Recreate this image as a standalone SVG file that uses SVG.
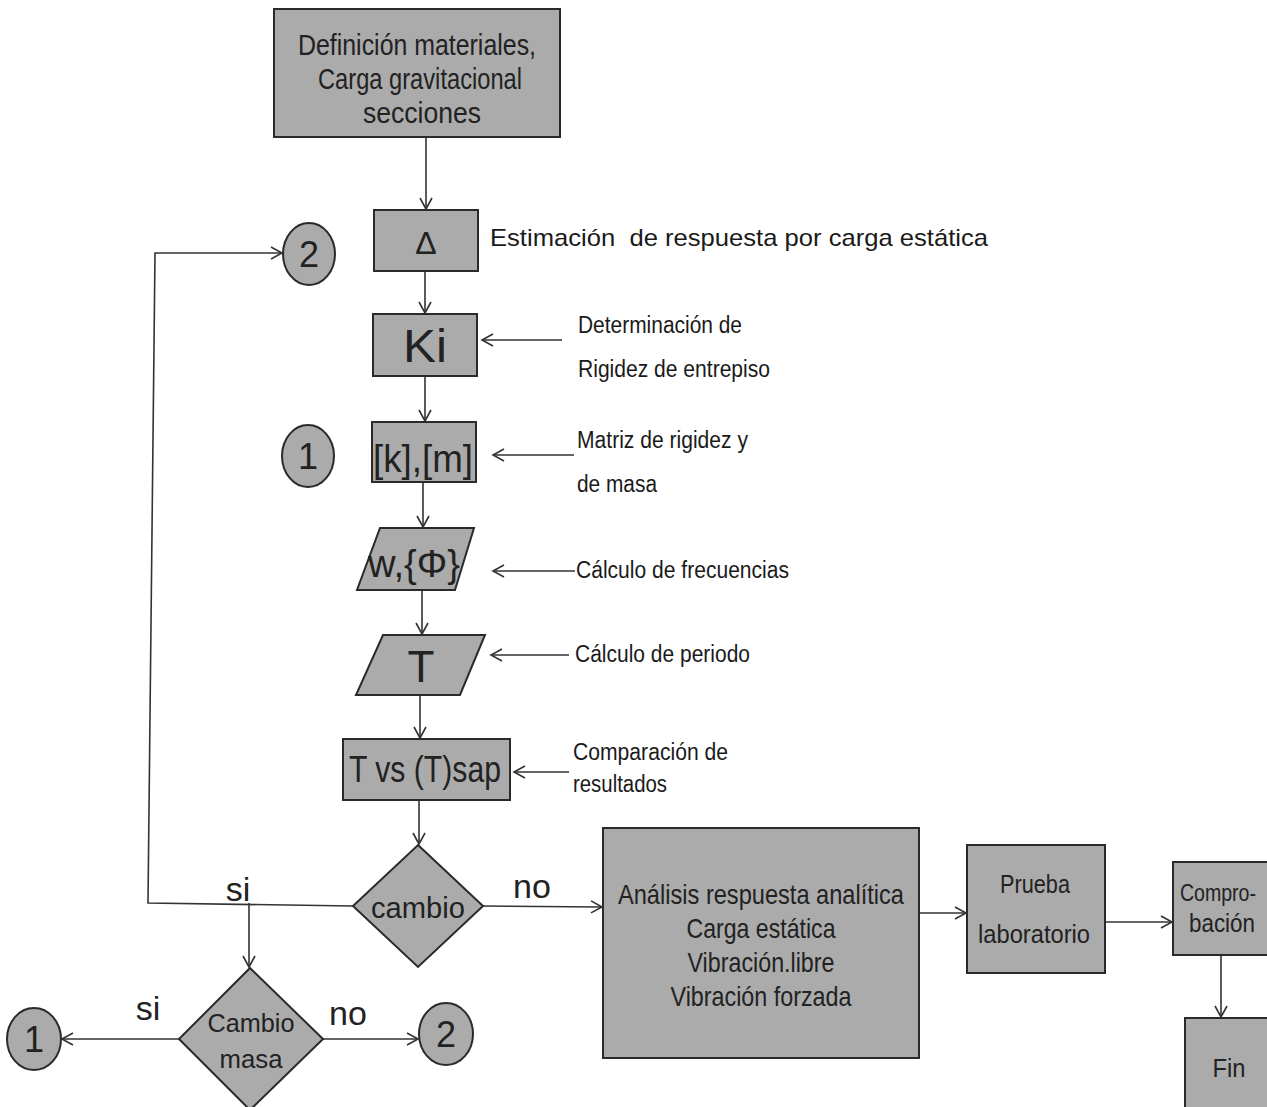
<svg xmlns="http://www.w3.org/2000/svg" width="1267" height="1107" viewBox="0 0 1267 1107">
<style>
.n{fill:#ababab;stroke:#2a2a2a;stroke-width:2}
.c{fill:none;stroke:#333;stroke-width:1.6}
.t{font-family:"Liberation Sans",Arial,sans-serif;fill:#222;text-anchor:middle}
.l{font-family:"Liberation Sans",Arial,sans-serif;fill:#1a1a1a}
</style>
<defs>
<marker id="a" markerUnits="userSpaceOnUse" markerWidth="14" markerHeight="14" refX="12" refY="7" orient="auto">
<path d="M1,1 L12,7 L1,13" fill="none" stroke="#333" stroke-width="1.6"/>
</marker>
</defs>
<rect width="1267" height="1107" fill="#fff"/>

<g id="connectors" class="c" marker-end="url(#a)">
<line x1="426" y1="137" x2="426" y2="209"/>
<line x1="425" y1="271" x2="425" y2="313"/>
<line x1="425" y1="376" x2="425" y2="421"/>
<line x1="423" y1="482" x2="423" y2="527"/>
<line x1="422" y1="590" x2="422" y2="634"/>
<line x1="420" y1="695" x2="420" y2="738"/>
<line x1="419" y1="800" x2="419" y2="844"/>
<polyline points="353,906 148,903 155,253 282,253"/>
<line x1="249" y1="903" x2="249" y2="967"/>
<line x1="483" y1="906" x2="602" y2="907"/>
<line x1="179" y1="1039" x2="62" y2="1039"/>
<line x1="323" y1="1039" x2="418" y2="1039"/>
<line x1="919" y1="913" x2="966" y2="913"/>
<line x1="1105" y1="922" x2="1172" y2="922"/>
<line x1="1221" y1="955" x2="1221" y2="1017"/>
<line x1="562" y1="340" x2="482" y2="340"/>
<line x1="574" y1="455" x2="493" y2="455"/>
<line x1="575" y1="571" x2="493" y2="571"/>
<line x1="569" y1="655" x2="491" y2="655"/>
<line x1="569" y1="772" x2="514" y2="772"/>
</g>

<g id="n-def">
<rect class="n" x="274" y="9" width="286" height="128"/>
<text class="t" x="417" y="55" font-size="30" textLength="238" lengthAdjust="spacingAndGlyphs">Definición materiales,</text>
<text class="t" x="420" y="89" font-size="30" textLength="204" lengthAdjust="spacingAndGlyphs">Carga gravitacional</text>
<text class="t" x="422" y="123" font-size="30" textLength="118" lengthAdjust="spacingAndGlyphs">secciones</text>
</g>
<g id="n-delta">
<rect class="n" x="374" y="210" width="104" height="61"/>
<text class="t" x="426" y="254" font-size="32">Δ</text>
</g>
<text id="lbl-est" class="l" x="490" y="246" font-size="24" xml:space="preserve" textLength="498" lengthAdjust="spacingAndGlyphs">Estimación  de respuesta por carga estática</text>
<g id="n-c2top">
<ellipse class="n" cx="309" cy="254" rx="26" ry="31"/>
<text class="t" x="309" y="267" font-size="36">2</text>
</g>
<g id="n-ki">
<rect class="n" x="373" y="314" width="104" height="62"/>
<text class="t" x="425" y="362" font-size="46" textLength="44" lengthAdjust="spacingAndGlyphs">Ki</text>
</g>
<text class="l" x="578" y="333" font-size="23" textLength="164" lengthAdjust="spacingAndGlyphs">Determinación de</text>
<text class="l" x="578" y="377" font-size="23" textLength="192" lengthAdjust="spacingAndGlyphs">Rigidez de entrepiso</text>
<g id="n-c1top">
<ellipse class="n" cx="308" cy="456" rx="26" ry="31"/>
<text class="t" x="308" y="469" font-size="36">1</text>
</g>
<g id="n-km">
<rect class="n" x="372" y="422" width="104" height="60"/>
<text class="t" x="423" y="472" font-size="38" textLength="100" lengthAdjust="spacingAndGlyphs">[k],[m]</text>
</g>
<text class="l" x="577" y="448" font-size="23" textLength="171" lengthAdjust="spacingAndGlyphs">Matriz de rigidez y</text>
<text class="l" x="577" y="492" font-size="23" textLength="80" lengthAdjust="spacingAndGlyphs">de masa</text>
<g id="n-w">
<polygon class="n" points="380,528 474,528 455,590 357,590"/>
<text class="t" x="414" y="577" font-size="38" textLength="92" lengthAdjust="spacingAndGlyphs">w,{Φ}</text>
</g>
<text class="l" x="576" y="578" font-size="23" textLength="213" lengthAdjust="spacingAndGlyphs">Cálculo de frecuencias</text>
<g id="n-T">
<polygon class="n" points="383,635 485,635 460,695 356,695"/>
<text class="t" x="421" y="682" font-size="44">T</text>
</g>
<text class="l" x="575" y="662" font-size="23" textLength="175" lengthAdjust="spacingAndGlyphs">Cálculo de periodo</text>
<g id="n-tvs">
<rect class="n" x="343" y="739" width="167" height="61"/>
<text class="t" x="425" y="782" font-size="36" textLength="152" lengthAdjust="spacingAndGlyphs">T vs (T)sap</text>
</g>
<text class="l" x="573" y="760" font-size="23" textLength="155" lengthAdjust="spacingAndGlyphs">Comparación de</text>
<text class="l" x="573" y="792" font-size="23" textLength="94" lengthAdjust="spacingAndGlyphs">resultados</text>
<g id="n-cambio">
<polygon class="n" points="418,845 483,906 418,967 353,906"/>
<text class="t" x="418" y="918" font-size="29" textLength="94" lengthAdjust="spacingAndGlyphs">cambio</text>
</g>
<text class="t" x="238" y="901" font-size="34">si</text>
<text class="t" x="532" y="898" font-size="34">no</text>
<g id="n-cmasa">
<polygon class="n" points="250,968 323,1039 250,1110 179,1039"/>
<text class="t" x="251" y="1032" font-size="26" textLength="87" lengthAdjust="spacingAndGlyphs">Cambio</text>
<text class="t" x="251" y="1068" font-size="26" textLength="63" lengthAdjust="spacingAndGlyphs">masa</text>
</g>
<text class="t" x="148" y="1020" font-size="34">si</text>
<text class="t" x="348" y="1025" font-size="34">no</text>
<g id="n-c1bot">
<ellipse class="n" cx="34" cy="1039" rx="27" ry="31"/>
<text class="t" x="34" y="1052" font-size="36">1</text>
</g>
<g id="n-c2bot">
<ellipse class="n" cx="446" cy="1034" rx="27" ry="31"/>
<text class="t" x="446" y="1047" font-size="36">2</text>
</g>
<g id="n-analisis">
<rect class="n" x="603" y="828" width="316" height="230"/>
<text class="t" x="761" y="904" font-size="28" textLength="286" lengthAdjust="spacingAndGlyphs">Análisis respuesta analítica</text>
<text class="t" x="761" y="938" font-size="28" textLength="149" lengthAdjust="spacingAndGlyphs">Carga estática</text>
<text class="t" x="761" y="972" font-size="28" textLength="147" lengthAdjust="spacingAndGlyphs">Vibración.libre</text>
<text class="t" x="761" y="1006" font-size="28" textLength="181" lengthAdjust="spacingAndGlyphs">Vibración forzada</text>
</g>
<g id="n-prueba">
<rect class="n" x="967" y="845" width="138" height="128"/>
<text class="t" x="1035" y="893" font-size="25" textLength="70" lengthAdjust="spacingAndGlyphs">Prueba</text>
<text class="t" x="1034" y="943" font-size="25" textLength="112" lengthAdjust="spacingAndGlyphs">laboratorio</text>
</g>
<g id="n-compro">
<rect class="n" x="1173" y="862" width="110" height="93"/>
<text class="t" x="1218" y="901" font-size="24" textLength="76" lengthAdjust="spacingAndGlyphs">Compro-</text>
<text class="t" x="1222" y="932" font-size="25" textLength="66" lengthAdjust="spacingAndGlyphs">bación</text>
</g>
<g id="n-fin">
<rect class="n" x="1185" y="1018" width="100" height="100"/>
<text class="t" x="1229" y="1077" font-size="26" textLength="33" lengthAdjust="spacingAndGlyphs">Fin</text>
</g>
</svg>
